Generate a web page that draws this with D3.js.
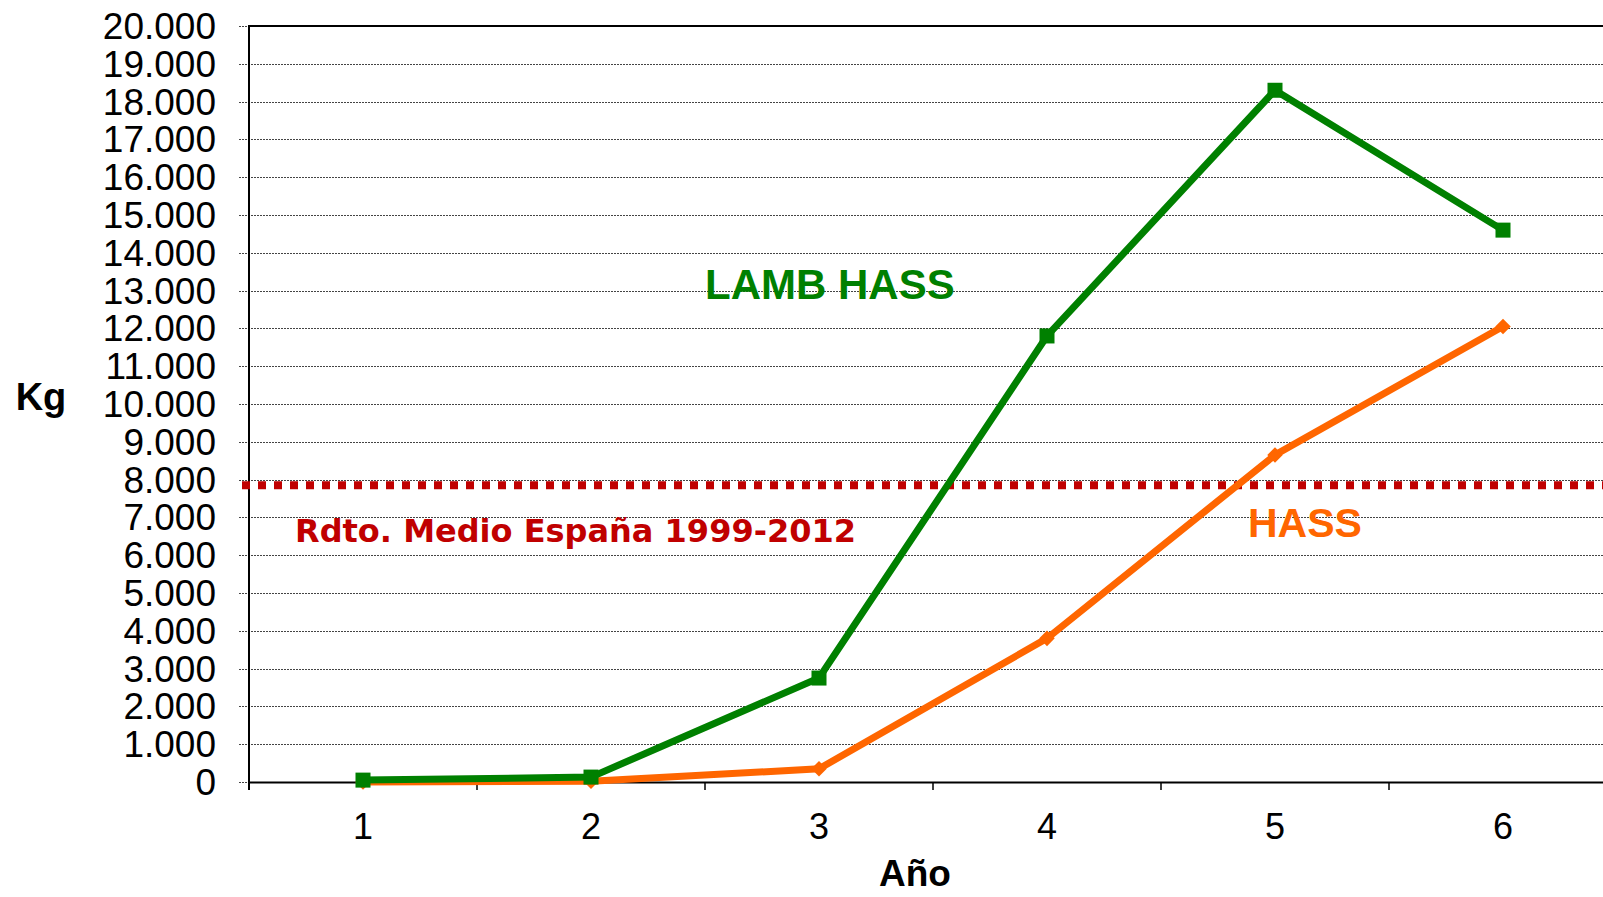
<!DOCTYPE html>
<html>
<head>
<meta charset="utf-8">
<script src="https://cdn.jsdelivr.net/npm/d3@7"></script>
<style>
  html, body { margin: 0; padding: 0; background: #fff; }
  svg { display: block; }
</style>
</head>
<body>
<div id="chart"></div>
<script>
const years = [1, 2, 3, 4, 5, 6];
const lambHass = [50, 130, 2750, 11800, 18300, 14600];
const hass = [0, 20, 350, 3800, 8650, 12050];
const avgSpain = 7850;
const yTicks = d3.range(0, 20001, 1000);

const showChart = () => {
  const width = 1603;
  const height = 897;
  const plotLeft = 249, plotTop = 26, plotBottom = 782;
  const band = 228;

  const svg = d3.select("#chart")
    .append("svg")
    .attr("width", width)
    .attr("height", height)
    .style("font-family", "'Liberation Sans', Arial, sans-serif");

  const x = d3.scaleBand()
    .domain(years)
    .range([plotLeft, plotLeft + band * years.length]);

  const y = d3.scaleLinear()
    .domain([0, 20000])
    .range([plotBottom, plotTop]);

  const es = d3.formatLocale({decimal: ",", thousands: ".", grouping: [3], currency: ["", ""]});
  const fmt = es.format(",");

  // grid lines
  svg.append("g")
    .selectAll("line")
    .data(yTicks)
    .join("line")
      .attr("x1", plotLeft - 10)
      .attr("x2", width)
      .attr("y1", d => Math.round(y(d)) + 0.5)
      .attr("y2", d => Math.round(y(d)) + 0.5)
      .attr("stroke", "#444")
      .attr("stroke-width", 1)
      .attr("stroke-dasharray", "2 1");

  // y tick labels
  svg.append("g")
    .selectAll("text")
    .data(yTicks)
    .join("text")
      .attr("x", 216)
      .attr("y", d => y(d) + 13)
      .attr("text-anchor", "end")
      .attr("font-size", 37)
      .text(d => fmt(d));

  // top border
  svg.append("line")
    .attr("x1", plotLeft).attr("x2", width)
    .attr("y1", plotTop).attr("y2", plotTop)
    .attr("stroke", "#000").attr("stroke-width", 2);

  // left axis
  svg.append("line")
    .attr("x1", plotLeft).attr("x2", plotLeft)
    .attr("y1", plotTop - 1).attr("y2", plotBottom + 8)
    .attr("stroke", "#000").attr("stroke-width", 2);

  // x axis
  const xAxis = d3.axisBottom(x).tickSize(0).tickFormat("");
  svg.append("g")
    .attr("transform", `translate(0,${plotBottom})`)
    .call(xAxis)
    .call(g => g.select(".domain").attr("stroke", "#000").attr("stroke-width", 2));

  // x ticks between categories
  svg.append("g")
    .selectAll("line")
    .data(years)
    .join("line")
      .attr("x1", d => x(d) + band)
      .attr("x2", d => x(d) + band)
      .attr("y1", plotBottom)
      .attr("y2", plotBottom + 8)
      .attr("stroke", "#000")
      .attr("stroke-width", 1.5);

  // x labels
  svg.append("g")
    .selectAll("text")
    .data(years)
    .join("text")
      .attr("x", d => x(d) + x.bandwidth() / 2)
      .attr("y", 839)
      .attr("text-anchor", "middle")
      .attr("font-size", 36)
      .text(d => d);

  // average line
  svg.append("line")
    .attr("x1", 242).attr("x2", width)
    .attr("y1", y(avgSpain)).attr("y2", y(avgSpain))
    .attr("stroke", "#C00000")
    .attr("stroke-width", 8)
    .attr("stroke-dasharray", "8 8");

  const cx = (d, i) => x(years[i]) + x.bandwidth() / 2;
  const line = d3.line().x(cx).y(d => y(d));

  // HASS
  svg.append("path")
    .datum(hass)
    .attr("d", line)
    .attr("fill", "none")
    .attr("stroke", "#FF6600")
    .attr("stroke-width", 7);

  svg.append("g")
    .selectAll("rect")
    .data(hass)
    .join("rect")
      .attr("x", -5.5).attr("y", -5.5)
      .attr("width", 11).attr("height", 11)
      .attr("fill", "#FF6600")
      .attr("transform", (d, i) => `translate(${cx(d, i)},${y(d)}) rotate(45)`);

  // LAMB HASS
  svg.append("path")
    .datum(lambHass)
    .attr("d", line)
    .attr("fill", "none")
    .attr("stroke", "#008000")
    .attr("stroke-width", 7);

  svg.append("g")
    .selectAll("rect")
    .data(lambHass)
    .join("rect")
      .attr("x", (d, i) => cx(d, i) - 7.5)
      .attr("y", d => y(d) - 7.5)
      .attr("width", 15).attr("height", 15)
      .attr("fill", "#008000");

  // labels
  svg.append("text")
    .attr("x", 705).attr("y", 299)
    .attr("font-size", 42).attr("font-weight", "bold")
    .attr("fill", "#008000")
    .text("LAMB HASS");

  svg.append("text")
    .attr("x", 1248).attr("y", 537)
    .attr("font-size", 41).attr("font-weight", "bold")
    .attr("fill", "#FF6600")
    .text("HASS");

  svg.append("text")
    .attr("x", 295).attr("y", 542)
    .attr("font-family", "'DejaVu Sans', Verdana, sans-serif")
    .attr("font-size", 32).attr("font-weight", "bold")
    .attr("fill", "#C00000")
    .text("Rdto. Medio España 1999-2012");

  svg.append("text")
    .attr("x", 41).attr("y", 410)
    .attr("text-anchor", "middle")
    .attr("font-size", 38).attr("font-weight", "bold")
    .text("Kg");

  svg.append("text")
    .attr("x", 915).attr("y", 886)
    .attr("text-anchor", "middle")
    .attr("font-size", 37).attr("font-weight", "bold")
    .text("Año");
}

showChart()
</script>
</body>
</html>
